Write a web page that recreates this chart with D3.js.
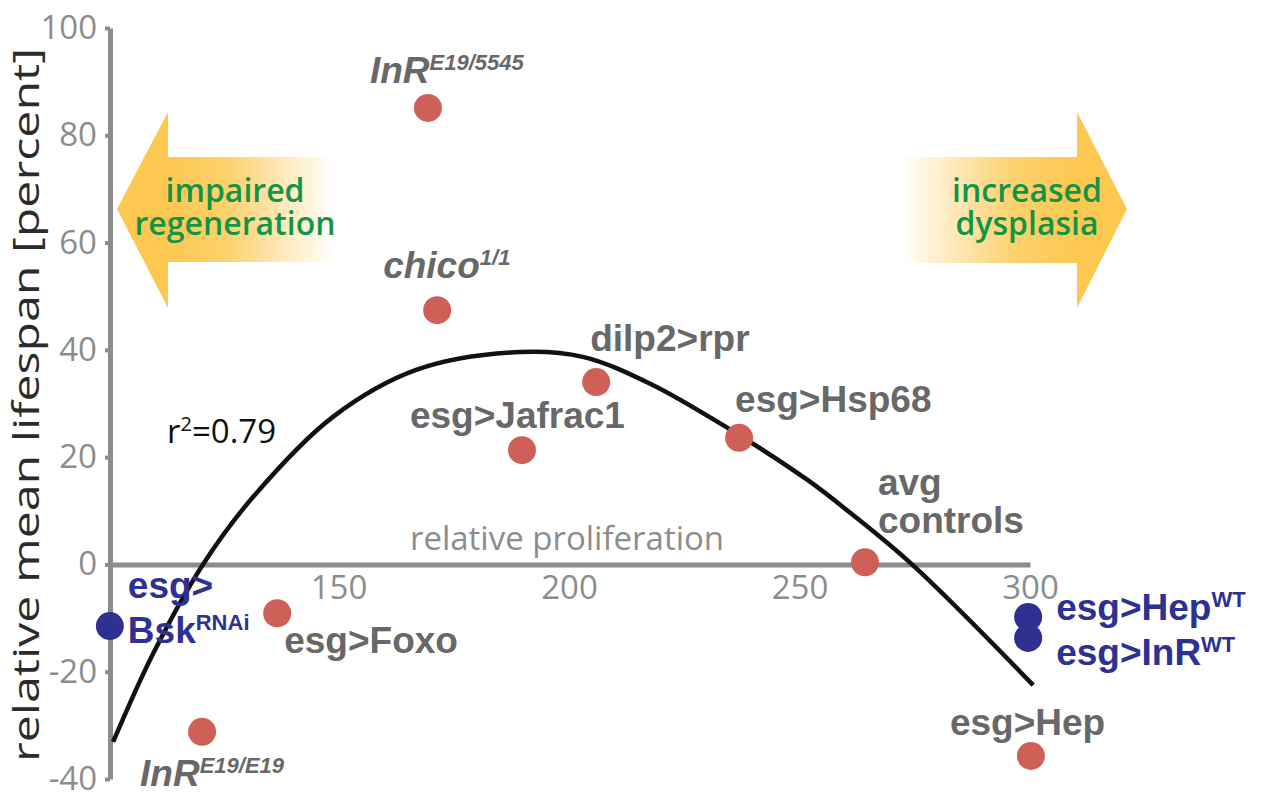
<!DOCTYPE html>
<html>
<head>
<meta charset="utf-8">
<script src="https://cdn.jsdelivr.net/npm/d3@7"></script>
<style>
	body { margin: 0; background: #fff; }
	svg { display: block; }
</style>
</head>
<body>
<svg id="chart" width="1262" height="800"></svg>
<script>
// Genotypes: relative proliferation (x) vs relative mean lifespan (y)
// "^" starts a superscript, "\n" breaks the label onto a new line
const genotypes = ["InR^E19/5545", "chico^1/1", "dilp2>rpr", "esg>Jafrac1", "esg>Hsp68", "avg\ncontrols",
	"esg>Foxo", "InR^E19/E19", "esg>Hep", "esg>\nBsk^RNAi", "esg>Hep^WT", "esg>InR^WT"];
const proliferation = [169.4, 171.4, 205.9, 189.8, 236.9, 264.2, 136.7, 120.4, 300.2, 100.4, 299.6, 299.6];
const lifespan = [85.1, 47.4, 34.0, 21.3, 23.6, 0.4, -9.1, -31.2, -35.7, -11.5, -9.8, -13.7];
const markerGroup = ["fit", "fit", "fit", "fit", "fit", "fit", "fit", "fit", "fit", "extra", "extra", "extra"];

// Quadratic fit line
const fitProliferation = [101.1, 109.8, 120.6, 131.5, 148.8, 167.0, 189.4, 203.0, 217.6, 234.3, 251.8, 260.3, 274.4, 300.7];
const fitLifespan = [-33.1, -16.6, 0, 12.6, 27.5, 36.3, 39.6, 38.7, 33.7, 25.5, 15.7, 10.1, 0, -22.5];
const fitR2 = "0.79";

const xTicks = [150, 200, 250, 300];
const yTicks = [-40, -20, 0, 20, 40, 60, 80, 100];
const xTitle = "relative proliferation";
const yTitle = "relative mean lifespan [percent]";
const leftArrowText = ["impaired", "regeneration"];
const rightArrowText = ["increased", "dysplasia"];

// label placement relative to its marker (px): dx to text start, dy to first baseline
const labelLayout = {
	"InR^E19/5545": { dx: -58, dy: -25, italic: true },
	"chico^1/1": { dx: -54, dy: -32, italic: true },
	"dilp2>rpr": { dx: -6, dy: -31 },
	"esg>Jafrac1": { dx: -112, dy: -22 },
	"esg>Hsp68": { dx: -4, dy: -26 },
	"avg\ncontrols": { dx: 13, dy: -67, lh: 38 },
	"esg>Foxo": { dx: 7, dy: 40 },
	"InR^E19/E19": { dx: -62, dy: 54, italic: true },
	"esg>Hep": { dx: -81, dy: -21 },
	"esg>\nBsk^RNAi": { dx: 18, dy: -28, lh: 45 },
	"esg>Hep^WT": { dx: 28, dy: 3 },
	"esg>InR^WT": { dx: 28, dy: 27 }
};

const colors = { fit: "#cf6057", extra: "#2e3192", label: "#686868", axis: "#8c8c8c", arrow: "#fcc852", arrowText: "#129446" };

const svg = d3.select("#chart");

const x = d3.scaleLinear().domain([100, 300]).range([108, 1030]);
const y = d3.scaleLinear().domain([-40, 100]).range([779, 28]);

const data = genotypes.map((g, i) => ({ name: g, x: proliferation[i], y: lifespan[i], group: markerGroup[i] }));
const fit = fitProliferation.map((v, i) => [v, fitLifespan[i]]);

// Background arrows with a fading tail
const defs = svg.append("defs");
function fade(id, x1, x2) {
	const g = defs.append("linearGradient")
		.attr("id", id)
		.attr("gradientUnits", "userSpaceOnUse")
		.attr("x1", x1).attr("x2", x2).attr("y1", 0).attr("y2", 0);
	g.append("stop").attr("offset", 0).attr("stop-color", colors.arrow).attr("stop-opacity", 1);
	g.append("stop").attr("offset", 0.35).attr("stop-color", colors.arrow).attr("stop-opacity", 0.85);
	g.append("stop").attr("offset", 1).attr("stop-color", colors.arrow).attr("stop-opacity", 0);
}
fade("fadeLeft", 168, 334);
fade("fadeRight", 1077, 900);

const arrows = [
	{ fill: "url(#fadeLeft)", pts: [[117, 209], [168, 112], [168, 157], [334, 157], [334, 262], [168, 262], [168, 308]], text: leftArrowText, cx: 235 },
	{ fill: "url(#fadeRight)", pts: [[1127, 209], [1077, 112], [1077, 157], [900, 157], [900, 263], [1077, 263], [1077, 308]], text: rightArrowText, cx: 1027 }
];

const arrowG = svg.append("g");
arrowG.selectAll("polygon")
	.data(arrows)
	.join("polygon")
	.attr("points", d => d.pts.map(p => p.join(",")).join(" "))
	.attr("fill", d => d.fill);

arrows.forEach(a => {
	arrowG.selectAll(null)
		.data(a.text)
		.join("text")
		.attr("x", a.cx)
		.attr("y", (d, i) => 202 + i * 33)
		.attr("text-anchor", "middle")
		.style("font-family", "'Open Sans', sans-serif")
		.style("font-weight", 600)
		.style("font-size", "32px")
		.style("fill", colors.arrowText)
		.text(d => d);
});

// Axes
const xAxisG = svg.append("g")
	.attr("transform", `translate(0,${y(0)})`)
	.call(d3.axisBottom(x).tickValues(xTicks).tickSize(0).tickSizeOuter(0).tickPadding(11));

const yAxisG = svg.append("g")
	.attr("transform", `translate(${x(100) + 2},0)`)
	.call(d3.axisLeft(y).tickValues(yTicks).tickFormat(d => String(d)).tickSize(5).tickSizeOuter(0).tickPadding(8));

[xAxisG, yAxisG].forEach(g => {
	g.attr("color", colors.axis)
		.attr("font-family", "'Open Sans', sans-serif")
		.attr("font-size", 33);
	g.select(".domain").attr("stroke-width", 5);
	g.selectAll(".tick line").attr("stroke-width", 4);
});

svg.append("text")
	.attr("x", 567)
	.attr("y", 550)
	.attr("text-anchor", "middle")
	.style("font-family", "'Open Sans', sans-serif")
	.style("font-size", "33px")
	.style("fill", colors.axis)
	.text(xTitle);

svg.append("text")
	.attr("transform", "translate(39,405) rotate(-90)")
	.attr("text-anchor", "middle")
	.attr("textLength", 714)
	.attr("lengthAdjust", "spacingAndGlyphs")
	.style("font-family", "'Open Sans', sans-serif")
	.style("font-size", "36px")
	.style("fill", "#2b2b2b")
	.text(yTitle);

// Fit curve
svg.append("path")
	.datum(fit)
	.attr("d", d3.line().x(d => x(d[0])).y(d => y(d[1])).curve(d3.curveCatmullRom))
	.attr("fill", "none")
	.attr("stroke", "#111")
	.attr("stroke-width", 4.5);

const r2 = svg.append("text")
	.attr("x", 167)
	.attr("y", 443)
	.style("font-family", "'Open Sans', sans-serif")
	.style("font-size", "33px")
	.style("fill", "#111");
r2.append("tspan").text("r");
r2.append("tspan").attr("dy", -12).style("font-size", "20px").text("2");
r2.append("tspan").attr("dy", 12).text("=" + fitR2);

// Markers
svg.append("g")
	.selectAll("circle")
	.data(data)
	.join("circle")
	.attr("cx", d => x(d.x))
	.attr("cy", d => y(d.y))
	.attr("r", 14)
	.attr("fill", d => colors[d.group]);

// Labels
const labelG = svg.append("g")
	.style("font-family", "'Liberation Sans', Arial, sans-serif")
	.style("font-weight", "bold");

data.forEach(d => {
	const lay = labelLayout[d.name];
	d.name.split("\n").forEach((line, li) => {
		const [main, sup] = line.split("^");
		const t = labelG.append("text")
			.attr("x", x(d.x) + lay.dx)
			.attr("y", y(d.y) + lay.dy + li * (lay.lh || 0))
			.style("font-size", "37px")
			.style("font-style", lay.italic ? "italic" : "normal")
			.style("fill", d.group === "extra" ? colors.extra : colors.label);
		t.append("tspan").text(main);
		if (sup) {
			t.append("tspan").attr("dy", -13).style("font-size", "22px").text(sup);
		}
	});
});
</script>
</body>
</html>
